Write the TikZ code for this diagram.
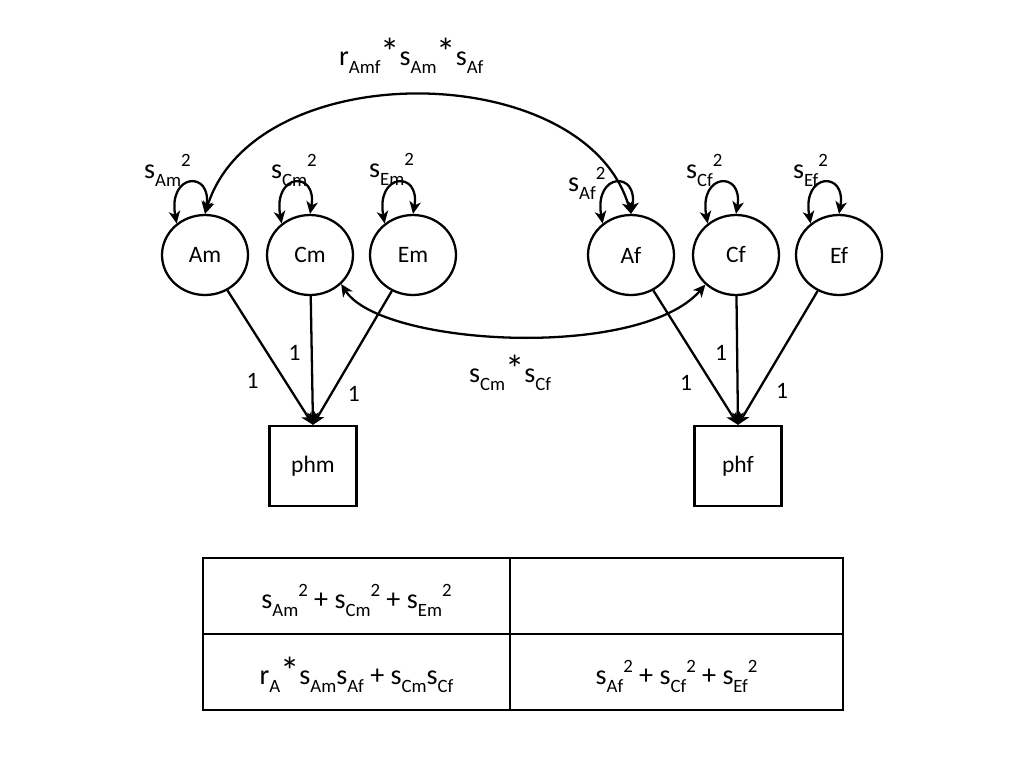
\documentclass[tikz,border=0pt]{standalone}
\usepackage{fontspec}
\setmainfont{Carlito}
\usetikzlibrary{shapes.geometric,arrows.meta}
\newcommand{\subt}[1]{\raisebox{-0.3em}{\fontsize{10.7}{12}\selectfont #1}}
\newcommand{\supt}[1]{\raisebox{0.42em}{\fontsize{10.7}{12}\selectfont #1}}
\newcommand{\mult}{{\fontsize{22}{24}\selectfont *}}
\tikzset{
  tip/.tip={Stealth[length=7pt,width=6.5pt,inset=2pt]},
  latent/.style={draw,ellipse,minimum width=1.72cm,minimum height=1.6cm,inner sep=0pt,font=\fontsize{13.4}{16}\selectfont},
  observed/.style={draw,rectangle,minimum width=1.74cm,minimum height=1.6cm,inner sep=0pt,font=\fontsize{13.4}{16}\selectfont},
  varlabel/.style={anchor=base west,inner sep=0pt,font=\fontsize{16}{19}\selectfont},
  loading/.style={inner sep=0pt,font=\fontsize{13.4}{16}\selectfont},
  cell/.style={anchor=base,inner sep=0pt,font=\fontsize{16}{19}\selectfont},
}
\begin{document}
\begin{tikzpicture}[x=0.02cm,y=0.02cm,line width=1.3pt]
  \useasboundingbox (0,0) rectangle (1024,-768);
  \node[latent] (Am) at (205,-255) {Am};
  \node[latent] (Cm) at (310,-255) {Cm};
  \node[latent] (Em) at (413,-255) {Em};
  \node[latent] (Af) at (631,-255) {Af};
  \node[latent] (Cf) at (736,-255) {Cf};
  \node[latent] (Ef) at (839,-255) {Ef};
  \node[observed] (phm) at (313,-466) {phm};
  \node[observed] (phf) at (738,-466) {phf};
  \draw[-tip] (Am) -- (phm.north) node[loading,pos=0.67,left=0.5cm] {1};
  \draw[-tip] (Cm) -- (phm.north) node[loading,pos=0.44,left=0.2cm] {1};
  \draw[-tip] (Em) -- (phm.north) node[loading,pos=0.77,right=0.31cm] {1};
  \draw[-tip] (Af) -- (phf.north) node[loading,pos=0.69,left=0.37cm] {1};
  \draw[-tip] (Cf) -- (phf.north) node[loading,pos=0.44,left=0.18cm] {1};
  \draw[-tip] (Ef) -- (phf.north) node[loading,pos=0.75,right=0.34cm] {1};
  \foreach \v in {Am,Cm,Em,Af,Cf,Ef}
    \draw[tip-tip] (\v.132) .. controls +(100:52) and +(80:44) .. (\v.90);
  \draw[tip-tip] (Am.90) .. controls +(50,160) and +(-46,156) .. (Af.90);
  \draw[tip-tip] (Cm.-43) .. controls +(40,-62) and +(-66,-76) .. (Cf.224);
  \node[varlabel] (vAm) at (143,-178) {s\subt{Am}\supt{2}};
  \node[varlabel] (vCm) at (270,-178) {s\subt{Cm}\supt{2}};
  \node[varlabel] (vEm) at (368,-177) {s\subt{Em}\supt{2}};
  \node[varlabel] (vAf) at (567,-191) {s\subt{Af}\supt{2}};
  \node[varlabel] (vCf) at (685,-178) {s\subt{Cf}\supt{2}};
  \node[varlabel] (vEf) at (792,-178) {s\subt{Ef}\supt{2}};
  \node[varlabel] (rAmf) at (338,-65) {r\subt{Amf}\mult s\subt{Am}\mult s\subt{Af}};
  \node[varlabel] (sCmCf) at (468,-382) {s\subt{Cm}\mult s\subt{Cf}};
  \draw[line width=0.8pt] (203,-558) rectangle (843,-710);
  \draw[line width=0.8pt] (203,-634) -- (843,-634) (510,-558) -- (510,-710);
  \node[cell] (varm) at (356.5,-608) {s\subt{Am}\supt{2} + s\subt{Cm}\supt{2} + s\subt{Em}\supt{2}};
  \node[cell] (covmf) at (356.5,-684) {r\subt{A}\mult s\subt{Am}s\subt{Af} + s\subt{Cm}s\subt{Cf}};
  \node[cell] (varf) at (676.5,-684) {s\subt{Af}\supt{2} + s\subt{Cf}\supt{2} + s\subt{Ef}\supt{2}};
\end{tikzpicture}
\end{document}
